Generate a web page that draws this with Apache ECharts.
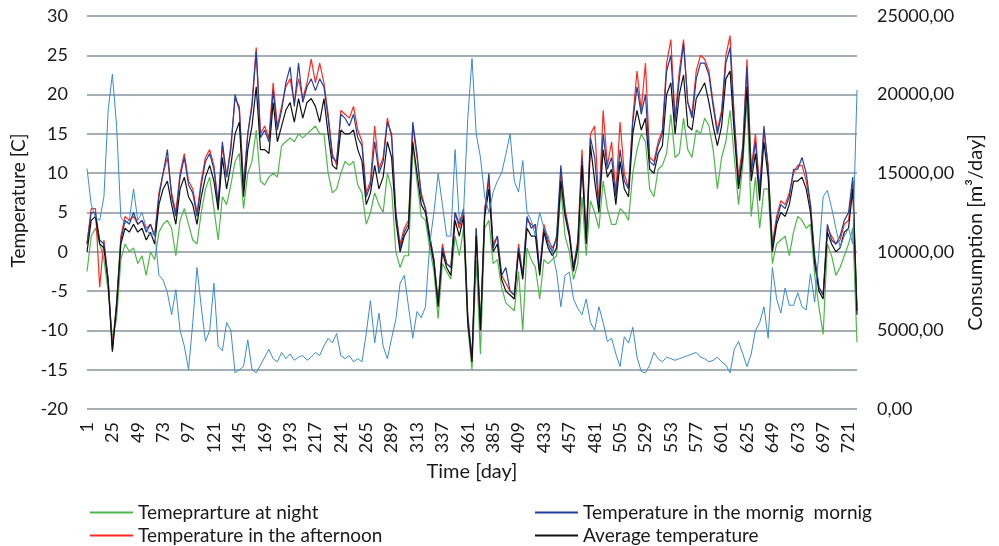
<!DOCTYPE html>
<html>
<head>
<meta charset="utf-8">
<title>Temperature and consumption</title>
<script src="https://cdn.jsdelivr.net/npm/echarts@6/dist/echarts.min.js"></script>
<style>
  html, body { margin: 0; padding: 0; background: #fff; }
  #chart { width: 999px; height: 546px; }
</style>
</head>
<body>
<div id="chart"></div>
<script>
// values, one point every 4th day (1, 5, 9 ... 729)
const days = Array.from({ length: 183 }, (_, i) => 1 + i * 4)

const night = [
  -2.5, 2, 3, 1, -1, -5, -11, -8.5, -1, 1, 0, 0.5, -1.5, -0.5, -3, 0, -1, 2.5, 3.5, 4, 3, -0.5, 4, 5.5, 3.5, 1.5, 1, 5, 8, 9.5,
  5.5, 1.5, 7, 6, 8.5, 11.5, 12.5, 5.5, 10, 11.5, 15.5, 9, 8.5, 9.5, 10, 9.5, 13.5, 14, 14.5, 14, 15, 14.5, 15, 15.5, 16, 15, 15, 10, 7.5, 8,
  10, 11.5, 11, 11.5, 8.5, 7.5, 3.5, 5, 7.5, 6, 5, 10, 8, 0, -2, -0.5, -0.5, 13.5, 9, 4.5, 4, 0.5, -2.5, -8.5, -1.5, -2.5, -3.5, 2, -0.5, 3, -9.5, -15,
  -1, -13, 3, 4, -1.5, -1, -4.5, -6.5, -7, -7.5, -2.5, -10, 0.5, -1, -2, -6, -1, -1.5, -1, -0.5, 8, 2, 0, -3.5, -1.5, 7, -0.5, 6.5, 5, 3,
  9, 5.5, 3.5, 3.5, 5.5, 5, 4, 10, 13, 15, 14, 8, 7, 10.5, 11, 12.5, 17.5, 12, 12.5, 17, 13, 12, 15.5, 15, 17, 16, 13, 8, 12, 14,
  18, 12, 6, 11, 19.5, 4.5, 9.5, 3, 8, 8, -1.5, 1, 1.5, 2, -0.5, 2.5, 4.5, 4, 3, 3.5, -3, -7, -10.5, 1, -0.5, -3, -2, -0.5, 1, 3, -11.5
]

const morning = [
  1, 5, 5, 1.5, 1, -3.5, -12.5, -6.5, 1.5, 4, 3.5, 5, 3.5, 4, 2.5, 3.5, 2, 7, 10, 13, 7, 4.5, 9.5, 12, 8.5, 7.5, 4.5, 8.5, 11.5, 12.5,
  10.5, 6, 14, 9.5, 13, 20, 18, 8, 15, 18.5, 25.5, 14.5, 15.5, 14, 20.5, 15.5, 18, 21.5, 23.5, 18.5, 24, 19, 21, 22, 20.5, 22, 21, 17, 12, 11.5,
  17.5, 17, 16, 17.5, 14.5, 13.5, 7, 8.5, 14, 10, 11.5, 16.5, 15, 5, 0.5, 2.5, 3.5, 16.5, 12.5, 7, 5.5, 2, -1, -6.5, 0.5, -1.5, -2, 5, 3.5, 5.5, -8, -13.5,
  3, -9.5, 5, 10, 0.5, 2, -3, -2, -5, -5.5, 0.5, -3, 4.5, 3, 3.5, -2.5, 3, 1, 0, 2, 11, 5, 2.5, -2, 1, 12, 1.5, 14.5, 12, 5.5,
  15, 10.5, 12, 7, 13, 9, 8, 16.5, 21, 17.5, 20, 11.5, 11, 13.5, 15, 23, 25, 16.5, 22, 26.5, 19, 17, 22, 24, 24, 22.5, 18.5, 15, 17.5, 24,
  26, 16.5, 8.5, 13, 23.5, 10, 14, 7.5, 16, 10.5, 0.5, 4, 6, 5.5, 7, 10.5, 10.5, 12, 10, 6, -0.5, -4.5, -5.5, 3.5, 1.5, 1, 2, 4, 5, 9.5, -7.5
]

const afternoon = [
  1, 5.5, 5.5, -4.5, 1.5, -3.5, -12, -6.5, 2, 4.5, 4, 4.5, 3.5, 4, 3, 3.5, 2, 7.5, 10, 12, 7.5, 5, 10, 12.5, 9, 8, 5, 9, 12, 13,
  11, 6, 13.5, 9.5, 13.5, 19.5, 18.5, 8.5, 15, 19, 26, 15, 16, 14.5, 21.5, 16, 18.5, 21, 22, 19, 22, 19.5, 21.5, 24.5, 21.5, 24, 21.5, 17.5, 12.5, 11,
  18, 17.5, 17, 18.5, 15.5, 14, 7.5, 9, 16, 10.5, 12, 17, 14.5, 5, 1, 3, 4, 16, 12, 7.5, 5.5, 2, -1, -6.5, 1, -1.5, -2, 5, 3, 5, -8.5, -14,
  3, -10, 5.5, 9, 1, 2, -3, -4, -5, -5.5, 1, -3, 4, 3.5, 3, -2.5, 3.5, 1.5, 0.5, 1.5, 10, 5.5, 2.5, -2, 1.5, 13, 2, 15, 16, 6,
  18, 11, 14, 7.5, 16.5, 10, 8, 17, 23, 18, 24, 12, 11.5, 14, 15.5, 24, 27, 17, 23, 27, 19, 17.5, 23, 25, 24.5, 23, 19, 15.5, 18, 25,
  27.5, 17, 9.5, 13.5, 24.5, 10.5, 15, 8, 15.5, 11, 1, 4.5, 6.5, 6, 7.5, 10, 11, 11, 9, 6, -1, -4.5, -5.5, 3, 2, 1, 1.5, 3.5, 4, 9, -7.5
]

const average = [
  0, 4, 4.5, 1, 0.5, -4, -12.7, -7, 1, 3, 2.5, 3.5, 2.5, 3, 1.5, 2.5, 1, 6, 8, 9, 6, 3.5, 8, 9.5, 7, 6, 3.5, 7, 9.5, 11,
  9, 5.3, 12, 8, 11, 15, 16.5, 7, 13, 16, 21, 13, 13, 12.5, 19, 14, 16, 18, 19, 16.5, 19.5, 17, 19, 19.5, 18.5, 16.5, 19.5, 15, 11, 10.5,
  15.5, 15, 15, 15.5, 13, 11.5, 6, 7.5, 11, 8, 9.5, 14, 12, 4, 0, 2, 3, 14, 10, 6, 5, 1.5, -1.5, -7, 0, -2, -3, 4, 2, 4.5, -9, -14,
  2, -10, 4.5, 8, 0, 1, -3.5, -5, -5.5, -6, 0, -3.5, 3, 2, 2, -3, 2.5, 0.5, -0.5, 0.5, 9, 4.5, 2, -2.5, 0.5, 11, 1, 13.5, 9, 5,
  13, 9.5, 10.5, 6, 11.5, 8, 7, 15, 18, 15.5, 17, 10.5, 10, 12.5, 13.5, 20, 21.5, 15, 20, 22.5, 16, 15.5, 19.5, 20.5, 21.5, 19, 16, 13.5, 16, 22,
  23, 15, 8, 12, 21, 9, 12.5, 6.5, 14, 9.5, 0, 3.5, 5, 4.5, 6, 9, 9, 9.5, 8, 5, -1.5, -5, -6, 2.5, 1, 0, 0.5, 2.5, 3, 8, -8
]

// m3/day, right axis
const consumption = [
  15300, 13000, 12200, 12000, 13500, 19000, 21300, 18000, 12200, 11800, 12000, 14000, 12000, 12500, 11500, 11000, 11300, 8500, 8200, 7400, 6000, 7600, 5000, 4000, 2500, 5500, 9000, 6500, 4300, 5000,
  8000, 4000, 3700, 5500, 5000, 2300, 2500, 2700, 4400, 2500, 2300, 2800, 3300, 3800, 3200, 3000, 3600, 3200, 3500, 3100, 3300, 3400, 3100, 3300, 3600, 3400, 4000, 4500, 4200, 4800,
  3400, 3200, 3400, 3000, 3200, 3000, 4800, 6900, 4200, 6100, 4000, 3200, 4500, 5700, 8000, 8500, 6500, 4500, 6200, 5800, 6500, 10500, 12500, 15000, 13000, 11000, 11000, 16500, 12000, 12500, 18500, 22300,
  17500, 16000, 13500, 12500, 13800, 14500, 15000, 16200, 17500, 14500, 13800, 15800, 12500, 12000, 11000, 12500, 11500, 11000, 10000, 8700, 6500, 8500, 8700, 7000, 6400, 6000, 7000, 5500, 5000, 6500,
  5500, 4300, 4500, 3500, 2700, 4600, 4200, 5200, 3300, 2400, 2300, 2800, 3600, 3200, 3000, 3300, 3200, 3100, 3200, 3300, 3400, 3500, 3600, 3300, 3200, 3000, 3100, 3300, 3000, 2800,
  2300, 3800, 4300, 3500, 2700, 3500, 5000, 5500, 6500, 4500, 9000, 7000, 6100, 7700, 6600, 6600, 7400, 6500, 6300, 8600, 6800, 10000, 13500, 13900, 12800, 11500, 10300, 11000, 11500, 10500, 20300
]

const chart = echarts.init(document.getElementById('chart'))
const font = 'Lato, "Liberation Sans", sans-serif'
const textColor = '#1a1a1a'

const lineSeries = (name, data, color, width, yAxisIndex) => ({
  name: name,
  type: 'line',
  data: data,
  yAxisIndex: yAxisIndex,
  symbol: 'none',
  lineStyle: { color: color, width: width },
  itemStyle: { color: color },
  emphasis: { disabled: true }
})

const legendText = { fontFamily: font, fontSize: 19, color: textColor, lineHeight: 21 }
const tickText = { fontSize: 18, fontFamily: font, color: textColor }

const option = {
  animation: false,
  grid: { left: 87, right: 142, top: 16, bottom: 137 },
  legend: [
    {
      orient: 'vertical', left: 90, top: 502, height: 44, padding: 0, itemWidth: 43, itemHeight: 2, itemGap: 2,
      icon: 'rect', textStyle: legendText,
      data: ['Temeprarture at night', 'Temperature in the afternoon']
    },
    {
      orient: 'vertical', left: 535, top: 502, height: 44, padding: 0, itemWidth: 43, itemHeight: 2, itemGap: 2,
      icon: 'rect', textStyle: legendText,
      data: ['Temperature in the mornig  mornig', 'Average temperature']
    }
  ],
  xAxis: {
    type: 'category',
    data: days,
    boundaryGap: false,
    axisLine: { show: false },
    axisTick: { show: false },
    axisLabel: Object.assign({ interval: 5, rotate: 90, margin: 13 }, tickText),
    name: 'Time [day]',
    nameLocation: 'middle',
    nameGap: 53,
    nameTextStyle: { fontSize: 20, fontFamily: font, color: textColor }
  },
  yAxis: [
    {
      type: 'value',
      min: -20, max: 30, interval: 5,
      axisLine: { show: false },
      axisTick: { show: false },
      axisLabel: Object.assign({ margin: 19 }, tickText),
      splitLine: { lineStyle: { color: '#a6aeb5', width: 2 } },
      name: 'Temperature [C]',
      nameLocation: 'middle',
      nameGap: 59,
      nameTextStyle: { fontSize: 19, fontFamily: font, color: textColor, padding: [0, 0, 0, 24] }
    },
    {
      type: 'value',
      position: 'right',
      min: 0, max: 25000, interval: 5000,
      axisLine: { show: false },
      axisTick: { show: false },
      splitLine: { show: false },
      axisLabel: Object.assign({
        margin: 20,
        formatter: v => v.toFixed(2).replace('.', ',')
      }, tickText),
      name: 'Consumption [m³/day]',
      nameLocation: 'middle',
      nameRotate: 90,
      nameGap: 105,
      nameTextStyle: { fontSize: 20, fontFamily: font, color: textColor, padding: [0, 40, 0, 0] }
    }
  ],
  series: [
    lineSeries('Temeprarture at night', night, '#4db848', 1.2, 0),
    lineSeries('Temperature in the afternoon', afternoon, '#ff2a1f', 1.2, 0),
    lineSeries('Temperature in the mornig  mornig', morning, '#233f9b', 1.2, 0),
    lineSeries('Average temperature', average, '#111111', 1.2, 0),
    lineSeries('Consumption', consumption, '#3a8ad2', 1, 1)
  ]
}

chart.setOption(option)
window.addEventListener('resize', () => chart.resize())
</script>
</body>
</html>
